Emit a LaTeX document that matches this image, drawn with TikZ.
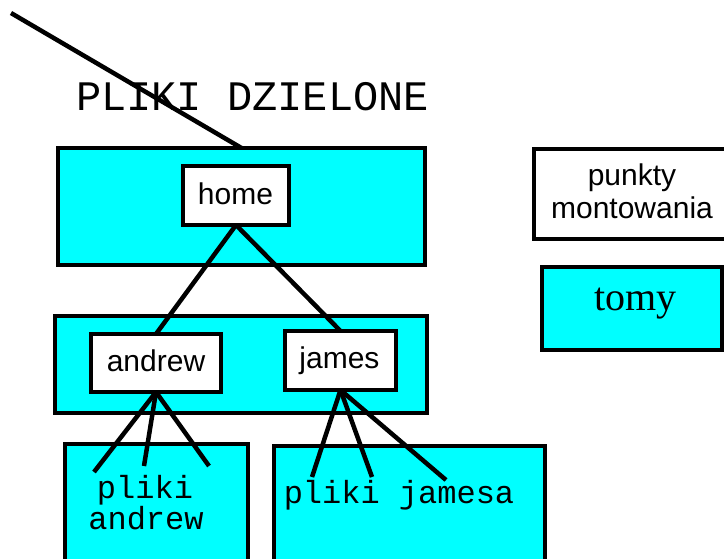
\documentclass[tikz,border=0pt]{standalone}
\usepackage{fontspec}
\setmainfont{Liberation Serif}
\setsansfont{Liberation Sans}
\setmonofont{Liberation Mono}
\definecolor{volcyan}{RGB}{0,255,255}
\tikzset{
  box/.style={draw=black, line width=4pt, inner sep=0pt, outer sep=0pt},
  volbox/.style={box, fill=volcyan},
  dirbox/.style={box, fill=white},
  conn/.style={draw=black, line width=4.5pt},
  sanslabel/.style={inner sep=0pt, anchor=base, font=\sffamily\fontsize{30}{33}\selectfont},
  monolabel/.style={inner sep=0pt, anchor=base, font=\ttfamily\fontsize{32}{31}\selectfont},
}
\begin{document}
\begin{tikzpicture}[x=1pt,y=-1pt]
\useasboundingbox (0,0) rectangle (724,558);
\clip (0,0) rectangle (724,558);

% volumes
\node[volbox, minimum width=367pt, minimum height=117pt] (shared) at (241.5,206.5) {};
\node[volbox, minimum width=372pt, minimum height=97pt] (users) at (241,364.5) {};
\node[volbox, minimum width=183pt, minimum height=140pt] (andrewvol) at (156.5,514) {};
\node[volbox, minimum width=271pt, minimum height=140pt] (jamesvol) at (409.5,516) {};

% legend
\node[dirbox, minimum width=210pt, minimum height=90pt] (legmount) at (639,194) {};
\node[volbox, minimum width=180pt, minimum height=83pt] (legvol) at (632,308.5) {};
\node[sanslabel] (legmounttxt) at (632,185) {punkty};
\node[sanslabel] (legmounttxt2) at (632,218) {montowania};
\node[inner sep=0pt, anchor=base, font=\rmfamily\fontsize{40}{44}\selectfont] (legvoltxt) at (635.5,310) {tomy};

% shared files title and mount line
\node[inner sep=0pt, anchor=base west, font=\ttfamily\fontsize{42}{44}\selectfont] (title) at (76,110) {PLIKI DZIELONE};
\coordinate (mntend) at (11,13);
\draw[conn] (mntend) -- (shared.north);

% mount points
\node[dirbox, minimum width=106pt, minimum height=59pt] (home) at (236,195.5) {};
\node[dirbox, minimum width=130pt, minimum height=58pt] (andrew) at (156,363) {};
\node[dirbox, minimum width=111pt, minimum height=59pt] (james) at (340.5,360.5) {};

\draw[conn] (home.south) -- (andrew.north);
\draw[conn] (home.south) -- (james.north);

\node[sanslabel] (hometxt) at (235.5,204) {home};
\node[sanslabel] (andrewtxt) at (156,371) {andrew};
\node[sanslabel] (jamestxt) at (339.5,368) {james};

% files below each user directory
\coordinate (a1) at (94,472);
\coordinate (a2) at (144,466);
\coordinate (a3) at (209,466);
\coordinate (j1) at (312,477);
\coordinate (j2) at (372,477);
\coordinate (j3) at (446,480);
\draw[conn] (andrew.south) -- (a1);
\draw[conn] (andrew.south) -- (a2);
\draw[conn] (andrew.south) -- (a3);
\draw[conn] (james.south) -- (j1);
\draw[conn] (james.south) -- (j2);
\draw[conn] (james.south) -- (j3);

\node[monolabel] (andrewfiles) at (145,498) {pliki};
\node[monolabel] (andrewfiles2) at (146,529) {andrew};
\node[monolabel] (jamesfiles) at (399,503) {pliki jamesa};
\end{tikzpicture}
\end{document}
